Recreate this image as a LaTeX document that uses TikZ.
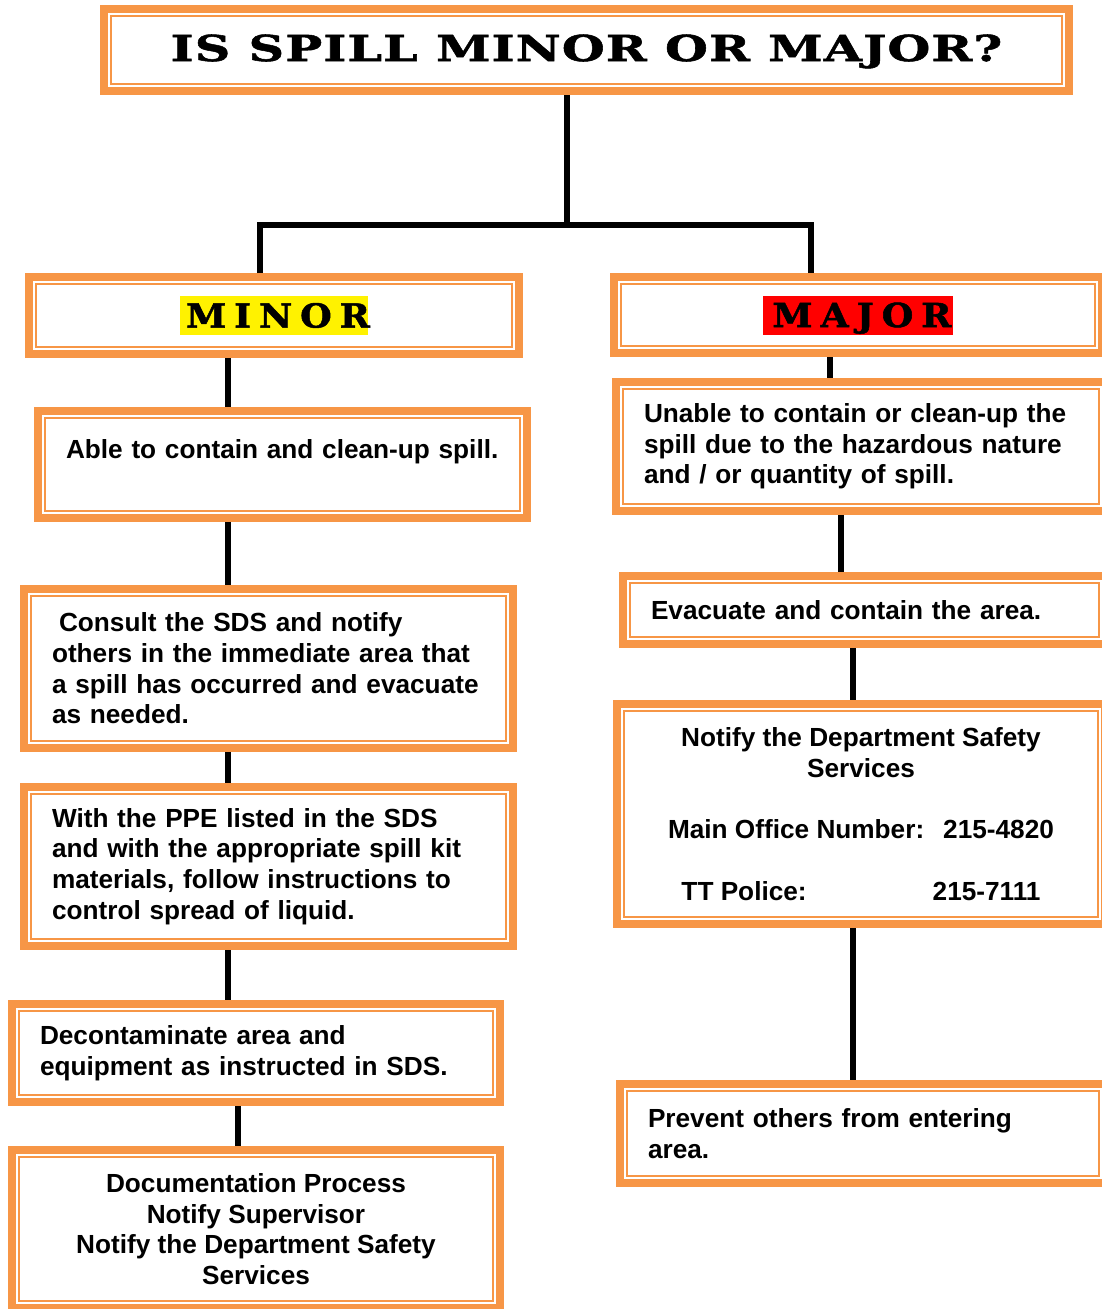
\documentclass[tikz,border=0pt]{standalone}
\usepackage{fontspec}
\setmainfont{Liberation Sans}
\newfontfamily\bannerfont{DejaVu Serif}[FakeStretch=1.38, LetterSpace=3, FakeBold=1.5]
\newfontfamily\tagfont{DejaVu Serif}[FakeStretch=1.1, LetterSpace=24, FakeBold=1.5]
\usetikzlibrary{positioning}

\definecolor{spillorange}{HTML}{F79646}
\newcommand{\stepfont}{\fontsize{26.2}{30.7}\selectfont\bfseries}

\tikzset{
  frame/.style={draw=spillorange, line width=8pt, fill=white, anchor=north west,
                inner ysep=4pt},
  leftbox/.style={frame, font=\stepfont, align=left, inner xsep=28pt},
  midbox/.style={frame, font=\stepfont, align=center},
  tag/.style={font=\tagfont\bfseries\fontsize{33}{36}\selectfont, inner xsep=6pt,
              inner ysep=0pt, minimum height=39pt, text height=24pt, text depth=0pt},
  link/.style={line width=5.5pt, line join=miter}
}

\begin{document}
\begin{tikzpicture}[x=1pt, y=-1pt]
    \useasboundingbox (0,0) rectangle (1101,1309);

    % heading
    \node[frame, minimum width=965pt, minimum height=82pt, inner xsep=0pt,
          text height=26pt, text depth=4pt,
          font=\bannerfont\bfseries\fontsize{35.7}{38}\selectfont] (title) at (100,5)
          {IS SPILL MINOR OR MAJOR?};

    % the two branches
    \node[frame, minimum width=490pt, minimum height=77pt] (minor) at (25,273) {};
    \node[tag, fill=yellow] (minortag) at (minor.center) {MINOR\kern-7.9pt};
    \node[frame, minimum width=488pt, minimum height=76pt] (major) at (610,273) {};
    \node[tag, fill=red, inner xsep=9pt] (majortag) at (major.center) {MAJOR\kern-7.9pt};

    % minor steps
    \node[leftbox, minimum width=489pt, minimum height=107pt, text width=433pt] (able) at (34,407)
          {Able to contain and clean-up spill.\\ \mbox{}};
    \node[leftbox, minimum width=489pt, minimum height=159pt, text width=433pt] (consult) at (20,585)
          {\hspace*{7pt}Consult the SDS and notify\\others in the immediate area that\\a spill has occurred and evacuate\\as needed.};
    \node[leftbox, minimum width=489pt, minimum height=159pt, text width=433pt] (ppe) at (20,783)
          {With the PPE listed in the SDS\\and with the appropriate spill kit\\materials, follow instructions to\\control spread of liquid.};
    \node[leftbox, minimum width=488pt, minimum height=98pt, text width=432pt] (decon) at (8,1000)
          {Decontaminate area and\\equipment as instructed in SDS.};
    \node[midbox, minimum width=488pt, minimum height=158pt] (docs) at (8,1146)
          {Documentation Process\\Notify Supervisor\\Notify the Department Safety\\Services};

    % major steps
    \node[leftbox, minimum width=490pt, minimum height=129pt, text width=434pt] (unable) at (612,378)
          {Unable to contain or clean-up the\\spill due to the hazardous nature\\and / or quantity of spill.};
    \node[leftbox, minimum width=483pt, minimum height=68pt, text width=427pt] (evac) at (619,572)
          {Evacuate and contain the area.};
    \node[midbox, minimum width=488pt, minimum height=220pt] (notify) at (613,700)
          {Notify the Department Safety\\Services\\[30.7pt]Main Office Number:\hspace{19pt}215-4820\\[30.7pt]TT Police:\hspace{126pt}215-7111};
    \node[leftbox, minimum width=486pt, minimum height=99pt, text width=430pt] (prevent) at (616,1080)
          {Prevent others from entering\\area.};

    % thin inner line of each frame
    \foreach \n in {title, minor, major, able, consult, ppe, decon, docs, unable, evac, notify, prevent}
      \draw[spillorange, line width=1.6pt]
        ([shift={(11pt,-11pt)}]\n.north west) rectangle ([shift={(-11pt,11pt)}]\n.south east);

    % connectors
    \coordinate (forkL) at (260,225);
    \coordinate (forkM) at (567,225);
    \coordinate (forkR) at (811,225);
    \coordinate (spineL) at (228,0);
    \coordinate (spineD) at (238,0);
    \coordinate (spineA) at (830,0);
    \coordinate (spineB) at (841,0);
    \coordinate (spineC) at (853,0);

    \draw[link] (title.south -| forkM) -- (forkM);
    \draw[link] (minor.north -| forkL) -- (forkL) -- (forkR) -- (major.north -| forkR);

    \foreach \a/\b in {minor/able, able/consult, consult/ppe, ppe/decon}
      \draw[link] (\a.south -| spineL) -- (\b.north -| spineL);
    \draw[link] (decon.south -| spineD) -- (docs.north -| spineD);

    \draw[link] (major.south -| spineA) -- (unable.north -| spineA);
    \draw[link] (unable.south -| spineB) -- (evac.north -| spineB);
    \draw[link] (evac.south -| spineC) -- (notify.north -| spineC);
    \draw[link] (notify.south -| spineC) -- (prevent.north -| spineC);
  \end{tikzpicture}
\end{document}
